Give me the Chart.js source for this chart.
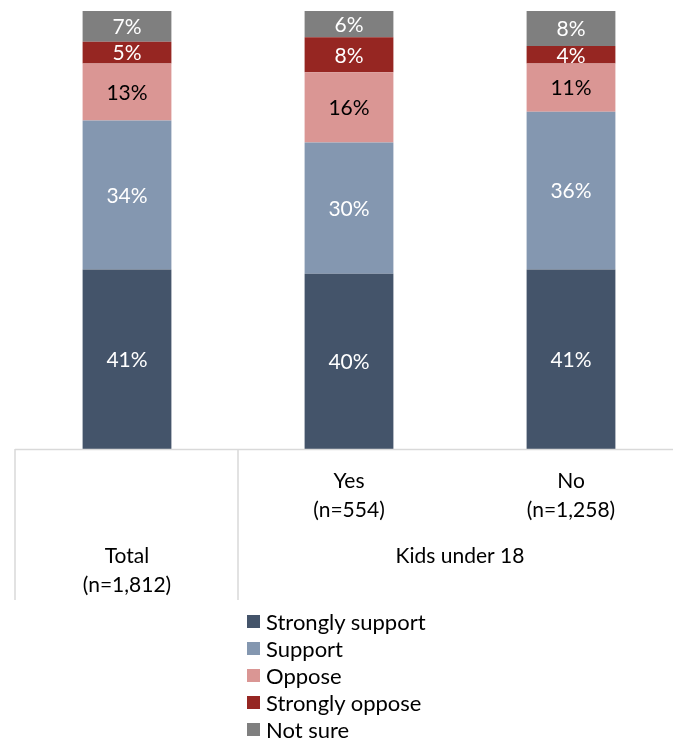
<!DOCTYPE html>
<html>
<head>
<meta charset="utf-8">
<script src="https://cdn.jsdelivr.net/npm/chart.js@4"></script>
<style>
  body { margin: 0; background: #fff; overflow: hidden; }
  #wrap { position: relative; width: 673px; height: 740px; overflow: hidden; }
  #legend { position: absolute; left: 247px; top: 608px; font-family: Lato, sans-serif; font-size: 22px; color: #000; }
  .legend-row { height: 27px; display: flex; align-items: center; }
  .legend-box { width: 13px; height: 13px; margin-right: 6px; }
</style>
</head>
<body>
<div id="wrap">
  <canvas id="surveyChart" width="682" height="740"></canvas>
  <div id="legend"></div>
</div>
<script>
const categories = ["Total", "Yes", "No"];
const sampleSizes = ["(n=1,812)", "(n=554)", "(n=1,258)"];
const groupLabel = "Kids under 18";

const seriesNames = ["Strongly support", "Support", "Oppose", "Strongly oppose", "Not sure"];
const strongSupport = [41, 40, 41];
const support = [34, 30, 36];
const oppose = [13, 16, 11];
const strongOppose = [5, 8, 4];
const notSure = [7, 6, 8];

const seriesColors = ["#44546a", "#8497b0", "#da9694", "#962622", "#7f7f7f"];
const labelColors = ["#ffffff", "#ffffff", "#000000", "#ffffff", "#ffffff"];

const ctx = document.getElementById("surveyChart");
const legendEl = document.getElementById("legend");
const font = "Lato, sans-serif";
const lineColor = "#d9d9d9";

const seriesValues = [strongSupport, support, oppose, strongOppose, notSure];

// value labels in the middle of each segment
const segmentLabels = {
  id: "segmentLabels",
  afterDatasetsDraw(chart) {
    const c = chart.ctx;
    c.save();
    c.font = `21px ${font}`;
    c.textAlign = "center";
    c.textBaseline = "middle";
    chart.data.datasets.forEach((ds, i) => {
      chart.getDatasetMeta(i).data.forEach((bar, j) => {
        const { x, y, base } = bar.getProps(["x", "y", "base"], true);
        c.fillStyle = labelColors[i];
        c.fillText(ds.data[j] + "%", x, (y + base) / 2 + 1);
      });
    });
    c.restore();
  },
};

// category table under the bars
const categoryTable = {
  id: "categoryTable",
  afterDraw(chart) {
    const c = chart.ctx;
    const xs = chart.scales.x;
    const area = chart.chartArea;
    const half = (xs.getPixelForValue(1) - xs.getPixelForValue(0)) / 2;
    const bottom = area.bottom;

    c.save();
    c.strokeStyle = lineColor;
    c.lineWidth = 1.5;
    c.beginPath();
    c.moveTo(area.left - 1, bottom + 0.5);
    c.lineTo(area.right, bottom + 0.5);
    c.moveTo(area.left - 1, bottom);
    c.lineTo(area.left - 1, bottom + 151);
    const split = xs.getPixelForValue(0) + half;
    c.moveTo(split, bottom);
    c.lineTo(split, bottom + 151);
    c.stroke();

    c.fillStyle = "#000";
    c.font = `21px ${font}`;
    c.textAlign = "center";
    c.textBaseline = "middle";

    const x0 = xs.getPixelForValue(0);
    c.fillText(categories[0], x0, bottom + 107);
    c.fillText(sampleSizes[0], x0, bottom + 136);

    for (let i = 1; i < categories.length; i++) {
      const x = xs.getPixelForValue(i);
      c.fillText(categories[i], x, bottom + 32);
      c.fillText(sampleSizes[i], x, bottom + 61);
    }

    const groupX = (split + area.right) / 2;
    c.fillText(groupLabel, groupX, bottom + 107);
    c.restore();
  },
};

const chart = new Chart(ctx, {
  type: "bar",
  data: {
    labels: categories,
    datasets: seriesNames.map((name, i) => ({
      label: name,
      data: seriesValues[i],
      backgroundColor: seriesColors[i],
      borderWidth: 0,
      barPercentage: 0.4,
      categoryPercentage: 1,
    })),
  },
  plugins: [segmentLabels, categoryTable],
  options: {
    responsive: false,
    animation: false,
    layout: {
      padding: { left: 16, right: 0, top: 11, bottom: 291 },
    },
    plugins: {
      legend: { display: false },
      tooltip: { enabled: false },
    },
    scales: {
      x: {
        stacked: true,
        display: false,
        grid: { display: false },
      },
      y: {
        stacked: true,
        display: false,
        min: 0,
        max: 100,
        grid: { display: false },
      },
    },
  },
});

chart.data.datasets.forEach((ds) => {
  const row = document.createElement("div");
  row.classList.add("legend-row");
  row.innerHTML = `<span class="legend-box" style="background:${ds.backgroundColor}"></span><span>${ds.label}</span>`;
  legendEl.append(row);
});
</script>
</body>
</html>
